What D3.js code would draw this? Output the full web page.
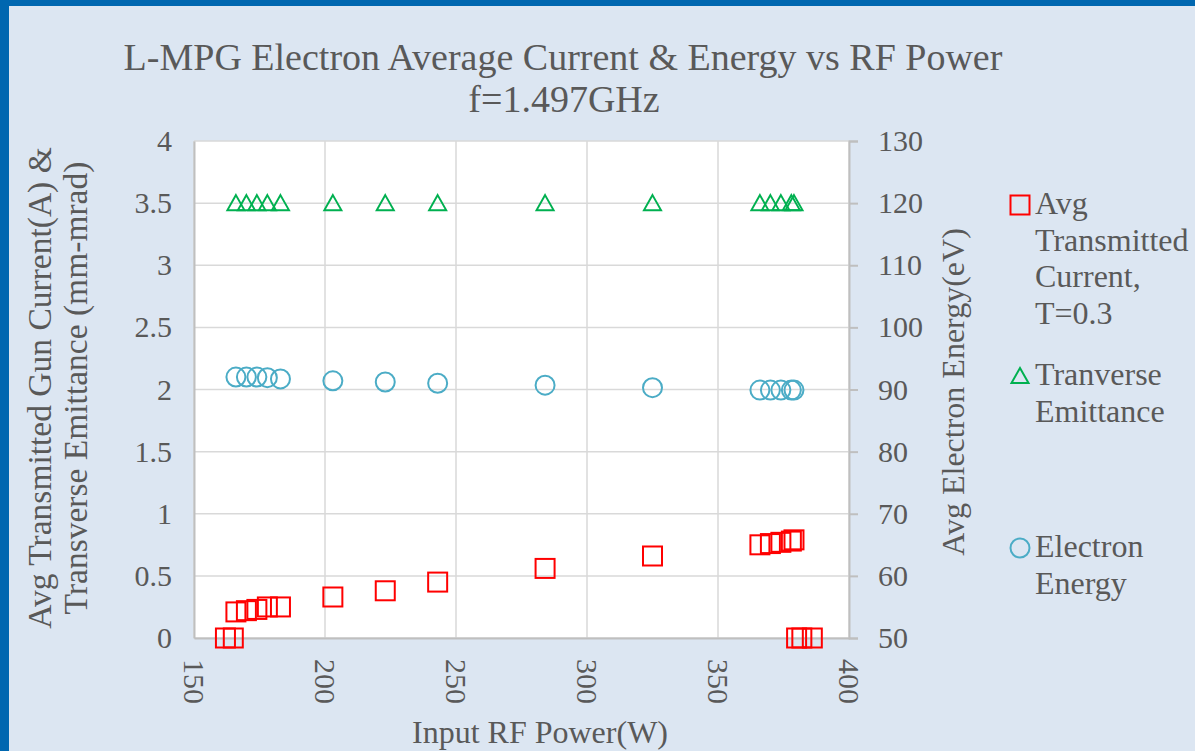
<!DOCTYPE html>
<html>
<head>
    <meta charset="utf-8">
    <title>L-MPG Electron Average Current and Energy vs RF Power</title>
    <script src="https://cdnjs.cloudflare.com/ajax/libs/d3/7.8.5/d3.min.js"></script>
    <style>
        html, body {
            margin: 0;
            padding: 0;
            background: #dce6f2;
        }
    </style>
</head>
<body>
<svg id="chart" width="1195" height="751" style="font-family: 'Liberation Serif', serif;"></svg>
<script>
    // data
    var powerCurrent = [162, 165, 166, 170, 174, 178, 183, 203, 223, 243, 284, 325, 366, 370, 374, 378, 379, 380, 382, 386];
    var current = [0, 0, 0.21, 0.22, 0.23, 0.25, 0.25, 0.33, 0.38, 0.45, 0.56, 0.66, 0.75, 0.76, 0.77, 0.78, 0.79, 0, 0, 0];

    var power = [166, 170, 174, 178, 183, 203, 223, 243, 284, 325, 366, 370, 374, 378, 379];
    var emittance = [3.5, 3.5, 3.5, 3.5, 3.5, 3.5, 3.5, 3.5, 3.5, 3.5, 3.5, 3.5, 3.5, 3.5, 3.5];
    var energy = [92.0, 92.0, 92.0, 91.9, 91.7, 91.4, 91.2, 91.0, 90.7, 90.3, 89.9, 89.9, 89.9, 89.9, 89.9];

    var xTicks = [150, 200, 250, 300, 350, 400];
    var yLeftTicks = [0, 0.5, 1, 1.5, 2, 2.5, 3, 3.5, 4];
    var yRightTicks = [50, 60, 70, 80, 90, 100, 110, 120, 130];

    var legendItems = [
        {name: "current", lines: ["Avg", "Transmitted", "Current,", "T=0.3"]},
        {name: "emittance", lines: ["Tranverse", "Emittance"]},
        {name: "energy", lines: ["Electron", "Energy"]}
    ];

    var red = "#ff0000", green = "#00b050", teal = "#4bacc6";
    var font = "Liberation Serif";
    var textColor = "#595959";

    var svg = d3.select("#chart");
    var plot = {left: 194, right: 849, top: 141, bottom: 638};

    // background + blue frame on top / left
    svg.append("rect").attr("x", 0).attr("y", 0).attr("width", 1195).attr("height", 751).attr("fill", "#dce6f2");
    svg.append("rect").attr("x", 0).attr("y", 0).attr("width", 1195).attr("height", 6).attr("fill", "#0067b0");
    svg.append("rect").attr("x", 0).attr("y", 0).attr("width", 9).attr("height", 751).attr("fill", "#0067b0");

    var x = d3.scaleLinear().domain([150, 400]).range([plot.left, plot.right]);
    var yL = d3.scaleLinear().domain([0, 4]).range([plot.bottom, plot.top]);
    var yR = d3.scaleLinear().domain([50, 130]).range([plot.bottom, plot.top]);

    svg.append("rect")
        .attr("x", plot.left).attr("y", plot.top)
        .attr("width", plot.right - plot.left).attr("height", plot.bottom - plot.top)
        .attr("fill", "#ffffff");

    // gridlines
    var grid = svg.append("g");
    grid.selectAll("line.h").data(yLeftTicks).join("line")
        .attr("x1", plot.left).attr("x2", plot.right)
        .attr("y1", d => yL(d)).attr("y2", d => yL(d))
        .attr("stroke", "#d9d9d9").attr("stroke-width", 1.5);
    grid.selectAll("line.v").data(xTicks).join("line")
        .attr("y1", plot.top).attr("y2", plot.bottom)
        .attr("x1", d => x(d)).attr("x2", d => x(d))
        .attr("stroke", "#d9d9d9").attr("stroke-width", 1.5);

    // axes
    var xAxis = svg.append("g")
        .attr("transform", "translate(0," + plot.bottom + ")")
        .call(d3.axisBottom(x).tickValues(xTicks).tickSize(0).tickPadding(0));
    xAxis.select(".domain").attr("stroke", "#bfbfbf").attr("stroke-width", 2);
    xAxis.selectAll("text")
        .attr("transform", "rotate(90)")
        .attr("x", 21).attr("y", 0).attr("dy", "0.35em")
        .style("text-anchor", "start");

    var yAxisL = svg.append("g")
        .attr("transform", "translate(" + plot.left + ",0)")
        .call(d3.axisLeft(yL).tickValues(yLeftTicks).tickSize(0).tickPadding(22).tickFormat(d3.format("")));
    yAxisL.select(".domain").attr("stroke", "#bfbfbf").attr("stroke-width", 2);

    var yAxisR = svg.append("g")
        .attr("transform", "translate(" + plot.right + ",0)")
        .call(d3.axisRight(yR).tickValues(yRightTicks).tickSize(9).tickPadding(20).tickSizeOuter(9));
    yAxisR.select(".domain").attr("stroke", "#bfbfbf").attr("stroke-width", 2);
    yAxisR.selectAll(".tick line").attr("stroke", "#bfbfbf").attr("stroke-width", 2);

    // d3 axes put font-family="sans-serif" on their group; drop it
    [xAxis, yAxisL, yAxisR].forEach(function (a) {
        a.attr("font-family", null).attr("font-size", null);
    });

    svg.selectAll(".tick text")
        .attr("fill", textColor)
        .attr("font-family", font)
        .style("font-family", font)
        .style("font-size", "30px");

    // marker shapes
    function square(g, cx, cy, color) {
        g.append("rect")
            .attr("x", cx - 9.5).attr("y", cy - 9.5).attr("width", 19).attr("height", 19)
            .attr("fill", "none").attr("stroke", color).attr("stroke-width", 2);
    }
    function triangle(g, cx, cy, color) {
        g.append("path")
            .attr("d", "M" + cx + "," + (cy - 8) + "L" + (cx + 8.5) + "," + (cy + 7) + "L" + (cx - 8.5) + "," + (cy + 7) + "Z")
            .attr("fill", "none").attr("stroke", color).attr("stroke-width", 2);
    }
    function circle(g, cx, cy, color) {
        g.append("circle")
            .attr("cx", cx).attr("cy", cy).attr("r", 9.5)
            .attr("fill", "none").attr("stroke", color).attr("stroke-width", 2);
    }

    var marks = svg.append("g");
    power.forEach(function (p, i) { triangle(marks, x(p), yL(emittance[i]), green); });
    power.forEach(function (p, i) { circle(marks, x(p), yR(energy[i]), teal); });
    powerCurrent.forEach(function (p, i) { square(marks, x(p), yL(current[i]), red); });

    function label(sel, size) {
        return sel.attr("fill", textColor).attr("font-family", font)
            .style("font-family", font).style("font-size", size + "px");
    }

    // titles
    label(svg.append("text"), 38).attr("x", 563).attr("y", 70).attr("text-anchor", "middle")
        .text("L-MPG Electron Average Current & Energy vs RF Power");
    label(svg.append("text"), 38).attr("x", 564).attr("y", 112).attr("text-anchor", "middle")
        .text("f=1.497GHz");

    label(svg.append("text"), 32).attr("x", 540).attr("y", 743).attr("text-anchor", "middle")
        .text("Input RF Power(W)");

    var yt = label(svg.append("text"), 33.5).attr("transform", "translate(51,388) rotate(-90)")
        .attr("text-anchor", "middle");
    yt.append("tspan").attr("x", 0).attr("y", 0).text("Avg Transmitted Gun Current(A) &");
    yt.append("tspan").attr("x", 0).attr("y", 36).text("Transverse Emittance (mm-mrad)");

    label(svg.append("text"), 32).attr("transform", "translate(964,392) rotate(-90)")
        .attr("text-anchor", "middle").text("Avg Electron Energy(eV)");

    // legend
    var legend = svg.append("g");
    var legendY = [205, 376, 548];
    var lineH = 36.5;
    legendItems.forEach(function (item, k) {
        var cy = legendY[k];
        if (item.name === "current") square(legend, 1020, cy, red);
        if (item.name === "emittance") triangle(legend, 1020, cy, green);
        if (item.name === "energy") circle(legend, 1020, cy, teal);
        var t = label(legend.append("text"), 32);
        item.lines.forEach(function (ln, j) {
            t.append("tspan").attr("x", 1035).attr("y", cy + 9 + j * lineH).text(ln);
        });
    });
</script>
</body>
</html>
